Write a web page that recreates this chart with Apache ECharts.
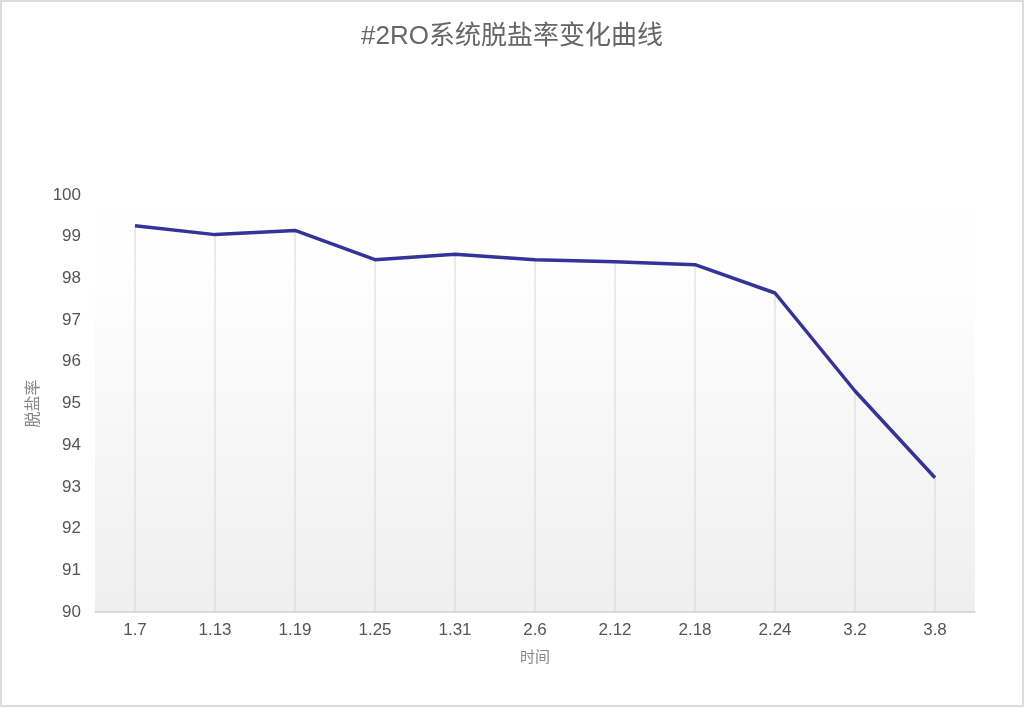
<!DOCTYPE html>
<html>
<head>
<meta charset="utf-8">
<script src="https://cdn.jsdelivr.net/npm/echarts@6/dist/echarts.min.js"></script>
<style>
html,body{margin:0;padding:0;background:#fff;}
#chart{width:1024px;height:707px;box-sizing:border-box;border:2px solid #dcdcdc;}
</style>
</head>
<body>
<div id="chart"></div>
<script>
const categories = ['1.7','1.13','1.19','1.25','1.31','2.6','2.12','2.18','2.24','3.2','3.8'];
const desaltRate = [99.26, 99.05, 99.15, 98.45, 98.58, 98.45, 98.4, 98.33, 97.65, 95.3, 93.22];
const yTicks = [90, 91, 92, 93, 94, 95, 96, 97, 98, 99, 100];

const chart = echarts.init(document.getElementById('chart'));
const font = '"Liberation Sans", Arial, "Noto Sans CJK SC", sans-serif';
chart.setOption({
  backgroundColor: '#fff',
  animation: false,
  title: {
    text: '#2RO系统脱盐率变化曲线',
    left: 'center',
    top: 17,
    textStyle: { fontFamily: font, fontSize: 26, fontWeight: 'normal', color: '#666' }
  },
  grid: {
    left: 93, right: 47, top: 193, bottom: 93,
    show: true,
    borderWidth: 0,
    backgroundColor: {
      type: 'linear', x: 0, y: 0, x2: 0, y2: 1,
      colorStops: [
        { offset: 0, color: '#ffffff' },
        { offset: 0.2, color: '#fefefe' },
        { offset: 1, color: '#efefef' }
      ]
    }
  },
  xAxis: {
    type: 'category',
    data: categories,
    boundaryGap: true,
    name: '时间',
    nameLocation: 'middle',
    nameGap: 38,
    nameTextStyle: { fontFamily: font, fontSize: 15, color: '#888' },
    axisLine: { lineStyle: { color: '#cfcfcf', width: 1.5 } },
    axisTick: { show: false },
    axisLabel: { fontFamily: font, fontSize: 17, color: '#555', margin: 10 },
    splitLine: { show: false }
  },
  yAxis: {
    type: 'value',
    min: yTicks[0],
    max: yTicks[yTicks.length - 1],
    interval: 1,
    name: '脱盐率',
    nameLocation: 'middle',
    nameGap: 50,
    nameTextStyle: { fontFamily: font, fontSize: 16, color: '#888' },
    axisLine: { show: false },
    axisTick: { show: false },
    splitLine: { show: false },
    axisLabel: { fontFamily: font, fontSize: 17, color: '#555', margin: 14 }
  },
  series: [
    {
      type: 'bar',
      data: desaltRate,
      barWidth: 1,
      itemStyle: { color: '#d6d6d6' },
      silent: true,
      z: 1
    },
    {
      type: 'line',
      data: desaltRate,
      symbol: 'none',
      lineStyle: { color: '#333399', width: 3.5 },
      z: 3
    }
  ]
});
</script>
</body>
</html>
